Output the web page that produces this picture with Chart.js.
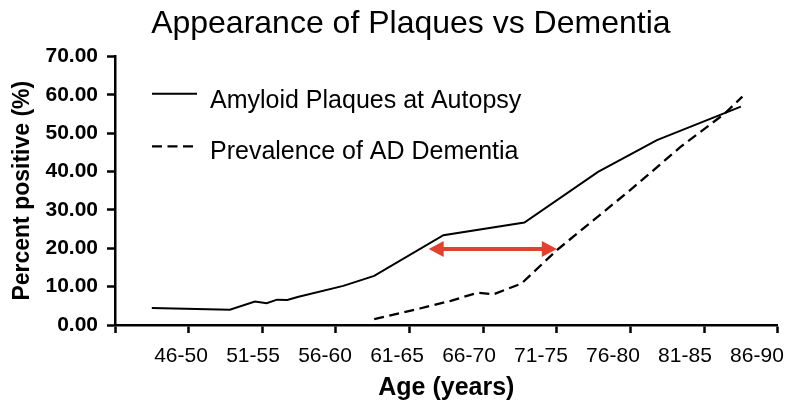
<!DOCTYPE html>
<html>
<head>
<meta charset="utf-8">
<script src="https://cdn.jsdelivr.net/npm/chart.js@4/dist/chart.umd.min.js"></script>
<style>
html,body{margin:0;padding:0;background:#fff;}
canvas{display:block;}
</style>
</head>
<body>
<canvas id="c" width="785" height="403"></canvas>
<script>
// ---- data ----
const chartTitle = 'Appearance of Plaques vs Dementia';
const xAxisTitle = 'Age (years)';
const yAxisTitle = 'Percent positive (%)';
const ageGroups = ['46-50','51-55','56-60','61-65','66-70','71-75','76-80','81-85','86-90'];

const plaqueLabel = 'Amyloid Plaques at Autopsy';
const plaqueAges   = [47.5, 52.8, 54.5, 55.3, 56.0, 56.7, 57.4, 60.5, 62.6, 67.3, 72.8, 77.8, 81.8, 87.5];
const plaqueValues = [4.4, 4.0, 6.1, 5.7, 6.6, 6.5, 7.3, 10.2, 12.8, 23.4, 26.7, 39.9, 48.2, 56.9];

const dementiaLabel = 'Prevalence of AD Dementia';
const dementiaAges   = [62.6, 65.7, 67.8, 69.6, 70.7, 72.6, 75.0, 80.0, 83.4, 86.4, 87.6];
const dementiaValues = [1.5, 4.3, 6.3, 8.4, 8.0, 10.8, 19.5, 35.2, 46.4, 55.1, 59.5];

const arrowAges = [66.3, 75.0];
const arrowValue = 19.8;

// ---- helpers ----
const toPoints = (xs, ys) => xs.map((x, i) => ({x: x, y: ys[i]}));
const FONT = "'Liberation Sans', Arial, Helvetica, sans-serif";
Chart.defaults.font.family = FONT;
Chart.defaults.color = '#000';

const insideLegend = {
  id: 'insideLegend',
  afterDraw(chart) {
    const {ctx, chartArea} = chart;
    const x0 = chartArea.left + 37;
    const rows = [
      {lineY: chartArea.top + 37.3, baseY: chartArea.top + 51.7},
      {lineY: chartArea.top + 90,   baseY: chartArea.top + 102.3}
    ];
    chart.data.datasets.forEach((ds, i) => {
      const r = rows[i];
      ctx.save();
      ctx.strokeStyle = ds.borderColor;
      ctx.lineWidth = ds.borderWidth;
      ctx.setLineDash(ds.borderDash || []);
      ctx.beginPath();
      ctx.moveTo(x0, r.lineY);
      ctx.lineTo(x0 + (ds.borderDash ? 42 : 45), r.lineY);
      ctx.stroke();
      ctx.setLineDash([]);
      ctx.fillStyle = '#000';
      ctx.font = '25px ' + FONT;
      ctx.textBaseline = 'alphabetic';
      ctx.textAlign = 'left';
      ctx.fillText(ds.label, x0 + 58, r.baseY);
      ctx.restore();
    });
  }
};

const rangeArrow = {
  id: 'rangeArrow',
  afterDatasetsDraw(chart) {
    const {ctx} = chart;
    const xs = chart.scales.x, ys = chart.scales.y;
    const x1 = xs.getPixelForValue(arrowAges[0]);
    const x2 = xs.getPixelForValue(arrowAges[1]);
    const y = ys.getPixelForValue(arrowValue);
    const head = 15, half = 8;
    ctx.save();
    ctx.strokeStyle = '#e2412f';
    ctx.fillStyle = '#e2412f';
    ctx.lineWidth = 4;
    ctx.beginPath();
    ctx.moveTo(x1 + head - 2, y);
    ctx.lineTo(x2 - head + 2, y);
    ctx.stroke();
    ctx.beginPath();
    ctx.moveTo(x1, y); ctx.lineTo(x1 + head, y - half); ctx.lineTo(x1 + head, y + half); ctx.closePath();
    ctx.fill();
    ctx.beginPath();
    ctx.moveTo(x2, y); ctx.lineTo(x2 - head, y - half); ctx.lineTo(x2 - head, y + half); ctx.closePath();
    ctx.fill();
    ctx.restore();
  }
};

new Chart(document.getElementById('c'), {
  type: 'line',
  data: {
    datasets: [
      {
        label: plaqueLabel,
        data: toPoints(plaqueAges, plaqueValues),
        borderColor: '#000',
        borderWidth: 2,
        pointRadius: 0,
        fill: false,
        tension: 0
      },
      {
        label: dementiaLabel,
        data: toPoints(dementiaAges, dementiaValues),
        borderColor: '#000',
        borderWidth: 2.3,
        borderDash: [10, 5.5],
        pointRadius: 0,
        fill: false,
        tension: 0
      }
    ]
  },
  options: {
    responsive: false,
    devicePixelRatio: 1,
    animation: false,
    layout: {padding: {left: 44, right: 7.3, top: 0, bottom: 0}},
    plugins: {
      legend: {display: false},
      tooltip: {enabled: false},
      title: {
        display: true,
        text: chartTitle,
        color: '#000',
        font: {size: 32, weight: 'normal', family: FONT},
        padding: {top: 5, bottom: 13}
      }
    },
    scales: {
      x: {
        type: 'linear',
        position: 'bottom',
        weight: 0,
        min: 45,
        max: 90,
        grid: {drawOnChartArea: false, drawTicks: true, tickLength: 8, tickWidth: 2.5, tickColor: '#000'},
        border: {display: true, color: '#000', width: 2.5},
        ticks: {stepSize: 5, display: false, autoSkip: false, maxRotation: 0},
        afterFit: (s) => { s.height = 8; s.paddingLeft = 0; s.paddingRight = 0; }
      },
      ageLabels: {
        type: 'linear',
        position: 'bottom',
        weight: 1,
        min: -0.9167,
        max: 8.288,
        grid: {display: false, drawTicks: false},
        border: {display: false},
        afterBuildTicks: (s) => { s.ticks = ageGroups.map((g, i) => ({value: i})); },
        ticks: {
          autoSkip: false,
          maxRotation: 0,
          minRotation: 0,
          padding: 11,
          color: '#000',
          font: {size: 21, family: FONT},
          callback: (v) => ageGroups[v] || ''
        },
        title: {display: true, text: xAxisTitle, color: '#000', font: {size: 25, weight: 'bold', family: FONT}, padding: {top: 0, bottom: 0}},
        afterFit: (s) => { s.height = 70; s.paddingLeft = 0; s.paddingRight = 0; }
      },
      y: {
        min: 0,
        max: 70,
        grid: {drawOnChartArea: false, drawTicks: true, tickLength: 8, tickWidth: 2.5, tickColor: '#000'},
        border: {display: true, color: '#000', width: 2.5},
        ticks: {
          stepSize: 10,
          padding: 9,
          color: '#000',
          font: {size: 21, weight: 'bold', family: FONT},
          callback: (v) => Number(v).toFixed(2)
        },
        title: {display: true, text: yAxisTitle, color: '#000', font: {size: 23, weight: 'bold', family: FONT}, padding: {top: -35.3, bottom: 0}},
        afterFit: (s) => { s.width = 71; s.paddingTop = 0; s.paddingBottom = 0; }
      }
    }
  },
  plugins: [rangeArrow, insideLegend]
});
</script>
</body>
</html>
